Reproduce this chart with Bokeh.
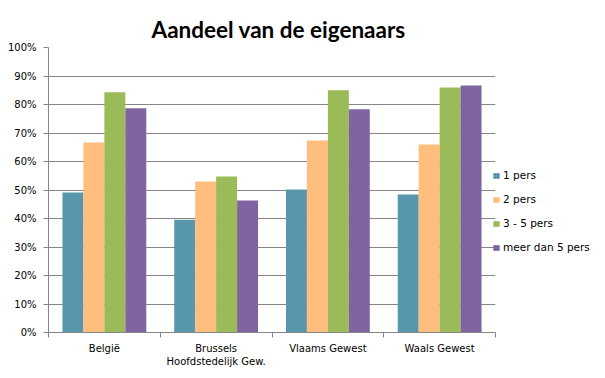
from bokeh.plotting import figure
from bokeh.models import ColumnDataSource, Range1d, FixedTicker, NumeralTickFormatter, Legend
from bokeh.embed import file_html
from bokeh.resources import INLINE

# ---- data ----
categories = ["België", "Brussels\nHoofdstedelijk Gew.", "Vlaams Gewest", "Waals Gewest"]
series_names = ["1 pers", "2 pers", "3 - 5 pers", "meer dan 5 pers"]
pers_1 = [0.491, 0.396, 0.502, 0.484]
pers_2 = [0.667, 0.530, 0.674, 0.660]
pers_3_5 = [0.843, 0.547, 0.850, 0.860]
pers_meer_5 = [0.787, 0.463, 0.783, 0.867]
y_ticks = [0.0, 0.1, 0.2, 0.3, 0.4, 0.5, 0.6, 0.7, 0.8, 0.9, 1.0]

colors = ["#5897AB", "#FFBE7D", "#9BBB59", "#8064A2"]
series = [pers_1, pers_2, pers_3_5, pers_meer_5]

FONT = "DejaVu Sans"
GRID = "#868686"

p = figure(frame_width=447, frame_height=285,
           min_border_left=48, min_border_right=110, min_border_top=47, min_border_bottom=46,
           x_range=Range1d(0, len(categories)), y_range=Range1d(0, 1),
           output_backend="svg", toolbar_location=None,
           title="Aandeel van de eigenaars")
p.outline_line_color = None
p.background_fill_color = "white"
p.border_fill_color = "white"

p.title.text_font = "Lato"
p.title.text_font_size = "22.5px"
p.title.text_font_style = "bold"
p.title.text_color = "black"
p.title.align = "left"
p.title.offset = 103

bar_w = 0.1875
offsets = [-0.28125, -0.09375, 0.09375, 0.28125]
centers = [i + 0.5 for i in range(len(categories))]
renderers = []
for name, vals, col, off in zip(series_names, series, colors, offsets):
    src = ColumnDataSource(dict(x=[c + off for c in centers], top=vals))
    r = p.vbar(x="x", top="top", width=bar_w, source=src, fill_color=col, line_color=None)
    renderers.append((name, [r]))

# x axis
p.xaxis.ticker = FixedTicker(ticks=centers, minor_ticks=list(range(len(categories) + 1)))
p.xaxis.major_label_overrides = {c: lab for c, lab in zip(centers, categories)}
p.xaxis.major_tick_out = 0
p.xaxis.major_tick_in = 0
p.xaxis.minor_tick_out = 5
p.xaxis.minor_tick_in = 0
p.xaxis.minor_tick_line_color = GRID
p.xaxis.axis_line_color = GRID
p.xaxis.major_label_text_font = FONT
p.xaxis.major_label_text_font_size = "10px"
p.xaxis.major_label_text_color = "black"
p.xaxis.major_label_standoff = 5
p.xgrid.grid_line_color = None

# y axis
p.yaxis.ticker = FixedTicker(ticks=y_ticks)
p.yaxis.formatter = NumeralTickFormatter(format="0%")
p.yaxis.major_tick_out = 5
p.yaxis.major_tick_in = 0
p.yaxis.minor_tick_line_color = None
p.yaxis.major_tick_line_color = GRID
p.yaxis.axis_line_color = GRID
p.yaxis.major_label_text_font = FONT
p.yaxis.major_label_text_font_size = "10px"
p.yaxis.major_label_text_color = "black"
p.yaxis.major_label_standoff = 7
p.ygrid.grid_line_color = GRID
p.ygrid.grid_line_width = 1

legend = Legend(items=renderers, location=(-3, 79))
legend.border_line_color = None
legend.background_fill_alpha = 0
legend.padding = 0
legend.margin = 0
legend.glyph_width = 8
legend.glyph_height = 7
legend.label_height = 12
legend.label_standoff = 3
legend.spacing = 12
legend.label_text_font = FONT
legend.label_text_font_size = "10.5px"
legend.label_text_color = "black"
p.add_layout(legend, "right")

open("out.html", "w").write(file_html(p, INLINE))
